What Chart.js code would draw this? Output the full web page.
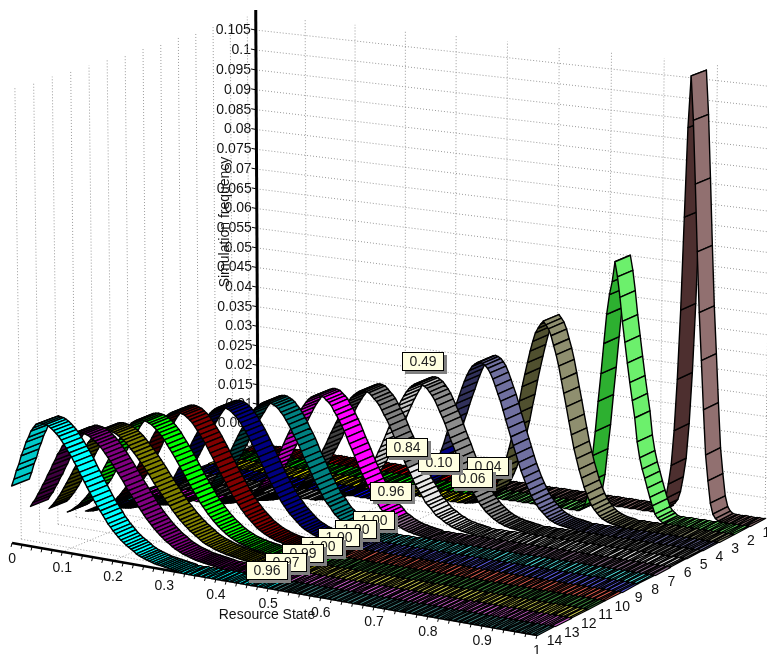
<!DOCTYPE html>
<html><head><meta charset="utf-8"><script src="https://cdn.jsdelivr.net/npm/chart.js@4"></script>
<style>html,body{margin:0;background:#fff}#w{width:767px;height:654px}</style></head>
<body><div id="w"><canvas id="c"></canvas></div>
<script>
// ---- values ----
const xTickLabels=["0","0.1","0.2","0.3","0.4","0.5","0.6","0.7","0.8","0.9","1"];
const zTickLabels=["1","2","3","4","5","6","7","8","9","10","11","12","13","14"];
const yTickLabels=["0.105","0.1","0.095","0.09","0.085","0.08","0.075","0.07","0.065","0.06","0.055","0.05","0.045","0.04","0.035","0.03","0.025","0.02","0.015","0.01","0.005","0"];
const stepU=0.005;
const peakIndex=[176,154,133,115,98,83,72,59,48,37,30,23,20,12];
const peakValue=[.1073,.0623,.0477,.0378,.0327,.0313,.0309,.0297,.0292,.0287,.0278,.0265,.0273,.0305];
// values walking away from the peak towards lower / higher resource state
const rise1=[.0948,.0731,.0504,.0334,.0207,.0120,.0073,.0036,.0015,.0005];
const fall1=[.0967,.0814,.0651,.0504,.0388,.0268,.0158,.0095,.0041,.0015,.0005];
const rise2=[.0574,.0541,.0492,.0420,.0345,.0276,.0201,.0140,.0075,.0034,.0014,.0005];
const fall2=[.0587,.0538,.0480,.0430,.0380,.0333,.0290,.0248,.0190,.0152,.0125,.0103,.0080,.0058,.0038,.0019,.0010,.0005];
const rise3=[.0469,.0458,.0446,.0424,.0399,.0370,.0340,.0309,.0273,.0241,.0206,.0178,.0151,.0126,.0103,.0084,.0068,.0053,.0041,.0032,.0025,.0018,.0013,.0010,.0007,.0005,.0003,.0002,.0001];
const fall3=[.0469,.0460,.0444,.0421,.0399,.0372,.0340,.0307,.0275,.0241,.0208,.0176,.0151,.0126,.0105,.0084,.0068,.0053,.0041,.0032,.0025,.0018,.0013,.0010,.0007,.0005,.0003,.0002,.0001];
const rise4=[.0376,.0371,.0365,.0354,.0341,.0325,.0307,.0287,.0268,.0248,.0226,.0207,.0185,.0163,.0145,.0126,.0109,.0094,.0081,.0068,.0057,.0048,.0039,.0033,.0027,.0021,.0016,.0013,.0010,.0008,.0006,.0005,.0004,.0003,.0002,.0001];
const fall4=[.0376,.0372,.0365,.0355,.0341,.0324,.0306,.0289,.0268,.0246,.0226,.0205,.0185,.0165,.0145,.0126,.0110,.0094,.0081,.0068,.0057,.0048,.0039,.0033,.0027,.0021,.0016,.0013,.0010,.0008,.0006,.0005,.0004,.0003,.0002,.0001];
const rise5=[.0326,.0323,.0318,.0311,.0302,.0291,.0279,.0266,.0252,.0237,.0221,.0205,.0189,.0173,.0157,.0143,.0128,.0114,.0101,.0089,.0078,.0067,.0058,.0050,.0043,.0037,.0031,.0026,.0021,.0017,.0014,.0012,.0009,.0008,.0006,.0005,.0004,.0003,.0002,.0001];
const fall5=[.0326,.0322,.0318,.0310,.0302,.0292,.0279,.0265,.0252,.0238,.0221,.0204,.0189,.0174,.0157,.0142,.0128,.0115,.0101,.0088,.0078,.0068,.0058,.0050,.0043,.0036,.0031,.0026,.0021,.0018,.0014,.0012,.0009,.0008,.0006,.0005,.0004,.0003,.0002,.0001];
const rise6=[.0312,.0309,.0304,.0298,.0291,.0282,.0272,.0261,.0250,.0236,.0223,.0209,.0196,.0181,.0166,.0153,.0139,.0127,.0114,.0102,.0092,.0081,.0072,.0062,.0055,.0048,.0041,.0035,.0030,.0026,.0022,.0018,.0016,.0012,.0010,.0008,.0007,.0005,.0004,.0003,.0002,.0001];
const fall6=[.0312,.0310,.0304,.0297,.0291,.0283,.0272,.0260,.0250,.0237,.0223,.0208,.0196,.0182,.0166,.0152,.0139,.0128,.0114,.0101,.0092,.0082,.0072,.0061,.0055,.0049,.0041,.0034,.0030,.0027,.0022,.0018,.0016,.0012,.0010,.0008,.0007,.0005,.0004,.0003,.0002,.0001];
const rise7=[.0308,.0305,.0301,.0295,.0287,.0277,.0267,.0256,.0243,.0230,.0216,.0202,.0188,.0173,.0158,.0145,.0131,.0118,.0106,.0095,.0083,.0074,.0065,.0056,.0048,.0042,.0036,.0030,.0026,.0021,.0018,.0015,.0012,.0010,.0008,.0007,.0005,.0004,.0003,.0002,.0001];
const fall7=[.0308,.0306,.0300,.0295,.0288,.0276,.0267,.0255,.0243,.0231,.0216,.0201,.0188,.0174,.0158,.0144,.0131,.0119,.0106,.0094,.0083,.0075,.0065,.0055,.0048,.0043,.0036,.0029,.0026,.0022,.0018,.0015,.0012,.0010,.0008,.0007,.0005,.0004,.0003,.0002,.0001];
const rise8=[.0296,.0294,.0290,.0284,.0278,.0270,.0261,.0249,.0239,.0227,.0215,.0202,.0189,.0175,.0162,.0149,.0136,.0124,.0112,.0100,.0090,.0080,.0071,.0063,.0055,.0048,.0042,.0035,.0030,.0026,.0022,.0019,.0016,.0013,.0011,.0009,.0007,.0006,.0005,.0004,.0003,.0002,.0001];
const fall8=[.0296,.0293,.0290,.0285,.0277,.0270,.0260,.0250,.0239,.0226,.0215,.0203,.0189,.0174,.0162,.0150,.0136,.0123,.0112,.0101,.0090,.0079,.0071,.0064,.0055,.0047,.0042,.0036,.0030,.0025,.0022,.0019,.0016,.0013,.0011,.0009,.0007,.0006,.0005,.0004,.0003,.0002,.0001];
const rise9=[.0291,.0289,.0285,.0279,.0272,.0264,.0255,.0244,.0233,.0221,.0209,.0196,.0183,.0169,.0156,.0143,.0131,.0119,.0106,.0095,.0085,.0076,.0067,.0059,.0051,.0045,.0039,.0033,.0028,.0024,.0020,.0017,.0014,.0012,.0010,.0008,.0006,.0005,.0004,.0003,.0002,.0001];
const fall9=[.0291,.0289,.0286,.0281,.0275,.0268,.0260,.0250,.0241,.0230,.0219,.0207,.0195,.0183,.0170,.0158,.0145,.0134,.0122,.0112,.0100,.0091,.0081,.0073,.0065,.0057,.0051,.0045,.0039,.0033,.0028,.0024,.0021,.0018,.0015,.0013,.0010,.0009,.0007,.0006,.0005,.0004,.0003,.0002,.0001];
const rise10=[.0286,.0284,.0280,.0274,.0267,.0258,.0248,.0237,.0226,.0214,.0201,.0188,.0174,.0160,.0147,.0135,.0122,.0110,.0098,.0088,.0078,.0069,.0060,.0053,.0045,.0039,.0033,.0028,.0023,.0020,.0016,.0014,.0011,.0009,.0008,.0006,.0005,.0004];
const fall10=[.0286,.0284,.0282,.0277,.0272,.0266,.0258,.0249,.0240,.0231,.0221,.0210,.0199,.0188,.0176,.0165,.0153,.0142,.0132,.0121,.0111,.0100,.0091,.0083,.0074,.0067,.0059,.0053,.0047,.0041,.0035,.0031,.0027,.0023,.0020,.0017,.0015,.0012,.0010,.0009,.0007,.0006,.0005,.0004,.0003,.0002,.0001];
const rise11=[.0277,.0275,.0271,.0266,.0259,.0251,.0242,.0231,.0220,.0209,.0197,.0184,.0171,.0158,.0146,.0134,.0122,.0110,.0098,.0088,.0078,.0069,.0061,.0054,.0046,.0040,.0035,.0029,.0024,.0021,.0017];
const fall11=[.0277,.0276,.0273,.0270,.0265,.0259,.0253,.0246,.0238,.0228,.0219,.0210,.0200,.0190,.0179,.0168,.0158,.0147,.0137,.0127,.0118,.0108,.0098,.0090,.0082,.0074,.0067,.0060,.0054,.0048,.0043,.0038,.0033,.0029,.0025,.0022,.0019,.0016,.0014,.0012,.0010,.0009,.0007,.0006,.0005,.0004,.0003,.0002,.0001];
const rise12=[.0264,.0262,.0257,.0252,.0245,.0235,.0226,.0215,.0203,.0191,.0179,.0165,.0153,.0140,.0128,.0116,.0104,.0092,.0082,.0072,.0063,.0055,.0048,.0041];
const fall12=[.0264,.0263,.0261,.0259,.0255,.0251,.0246,.0241,.0234,.0227,.0220,.0213,.0205,.0197,.0189,.0180,.0172,.0162,.0153,.0145,.0136,.0128,.0119,.0111,.0104,.0095,.0088,.0081,.0074,.0068,.0062,.0057,.0051,.0047,.0042,.0038,.0033,.0029,.0026,.0023,.0021,.0018,.0016,.0014,.0012,.0011,.0009,.0008,.0007,.0006,.0005,.0004,.0003,.0002,.0001];
const rise13=[.0272,.0268,.0266,.0258,.0251,.0241,.0232,.0219,.0209,.0194,.0182,.0167,.0155,.0140,.0129,.0115,.0104,.0091,.0082,.0071];
const fall13=[.0272,.0271,.0269,.0266,.0262,.0257,.0252,.0246,.0239,.0231,.0223,.0215,.0206,.0197,.0188,.0179,.0170,.0159,.0150,.0141,.0132,.0123,.0114,.0106,.0097,.0089,.0082,.0075,.0068,.0062,.0056,.0051,.0045,.0041,.0037,.0032,.0028,.0025,.0022,.0019,.0017,.0015,.0013,.0011,.0009,.0008,.0007,.0006,.0005,.0004,.0003,.0002,.0001];
const rise14=[.0302,.0299,.0290,.0281,.0265,.0252,.0233,.0217,.0195,.0179,.0157,.0139];
const fall14=[.0304,.0303,.0300,.0296,.0291,.0285,.0279,.0271,.0262,.0253,.0243,.0234,.0223,.0213,.0200,.0189,.0178,.0167,.0156,.0145,.0134,.0124,.0115,.0106,.0097,.0087,.0080,.0072,.0066,.0059,.0053,.0048,.0043,.0039,.0035,.0031,.0026,.0023,.0020,.0018,.0016,.0014,.0012,.0010,.0009,.0008,.0007,.0006,.0005,.0004,.0003,.0002,.0001];
const riseLists=[rise1,rise2,rise3,rise4,rise5,rise6,rise7,rise8,rise9,rise10,rise11,rise12,rise13,rise14];
const fallLists=[fall1,fall2,fall3,fall4,fall5,fall6,fall7,fall8,fall9,fall10,fall11,fall12,fall13,fall14];
// cursor read-outs at resource state 0.5 (series 2..14)
const cursorSeries=[2,3,4,5,6,7,8,9,10,11,12,13,14];
const cursorText=["0.04","0.06","0.10","0.49","0.84","0.96","1.00","1.00","1.00","1.00","0.99","0.97","0.96"];
const cursorDx=[7,7,-10,-9,-9,-8,-8,-9,-8,-8,-10,-9,-10];
const cursorDy=[-24,-20,15,-22,-17,-25,-14,-14,-14,-13,-14,-13,-13];
// colours: left/right of the cursor, rising/falling faces
const colBeforeFall=['#FF0000','#00FF00','#FFFF00','#0000FF','#C0C0C0','#808080','#FF00FF','#008080','#000080','#800000','#00FF00','#808000','#800080','#00FFFF'];
const colBeforeRise=['#800000','#008000','#808000','#000080','#C4C4C4','#404040','#C000C0','#004040','#000040','#400000','#00C000','#404000','#400040','#00C8C8'];
const colAfterFall=['#917070','#6CF06C','#8F8F6F','#7070A0','#8C8C8C','#E8E8E8','#8F708F','#50E8E8','#6060F0','#E86050','#409040','#D0D050','#D060D0','#408080'];
const colAfterRise=['#4D2F2F','#2DB030','#50502F','#30305A','#606060','#909090','#604060','#308080','#3030A0','#903028','#205020','#808030','#803080','#205050'];

// ---- camera (perspective projection of the plot box) ----
const CAM={a:472.6,b:-246.6,c:258,p:-58,d:51.7,e:70.8,f:443,q:-3937,g:-.045,h:-.0537,r:-.1458,shear:7.5};
const ZN=14,HALF=.48,Y_TOP=.11,WALL_TOP=.109;
function proj(u,v,w){const D=CAM.g*u+CAM.h*v+CAM.r*w+1;
  return {x:(CAM.a*u+CAM.b*v+CAM.c+CAM.p*w)/D,y:(CAM.d*u+CAM.e*v+CAM.f+CAM.q*w)/D+CAM.shear*u*v};}
const zv=z=>(z-.5)/ZN;
const GAP={x:NaN,y:NaN};
function seriesValues(k){const n=Math.round(1/stepU)+1,w=new Array(n).fill(0),p=peakIndex[k];w[p]=peakValue[k];
  riseLists[k].forEach((v,j)=>{if(p-1-j>=0)w[p-1-j]=v});fallLists[k].forEach((v,j)=>{if(p+1+j<n)w[p+1+j]=v});return w;}
const allValues=riseLists.map((_,k)=>seriesValues(k));

const grid=[];
for(let t=0;t<yTickLabels.length;t++){const w=parseFloat(yTickLabels[t]);grid.push(proj(0,0,w),proj(1.01,0,w),GAP);}
for(let i=1;i<xTickLabels.length;i++){const u=parseFloat(xTickLabels[i]);grid.push(proj(u,0,0),proj(u,0,WALL_TOP),GAP);grid.push(proj(u,0,0),proj(u,1,0),GAP);}
for(let z=1;z<=ZN;z++){const v=zv(z);grid.push(proj(0,v,0),proj(0,v,WALL_TOP),GAP);grid.push(proj(0,v,0),proj(1,v,0),GAP);}

const datasets=[];
datasets.push({label:'grid',data:grid,showLine:true,spanGaps:false,borderColor:'#9a9a9a',borderWidth:1,borderDash:[1,2],pointRadius:0,order:1000,fill:false});
datasets.push({label:'Simulation frequency axis',data:[proj(0,0,0),proj(0,0,Y_TOP)],showLine:true,borderColor:'#000',borderWidth:3,pointRadius:0,order:900});
datasets.push({label:'Resource State axis',data:[proj(0,1,0),proj(1,1,0)],showLine:true,borderColor:'#000',borderWidth:2.5,pointRadius:0,order:900});
const ticks=[];
for(let i=0;i<=50;i++){const a=proj(i*.02,1,0);ticks.push(a,{x:a.x-1,y:a.y+4},GAP);}
for(const s of yTickLabels){const a=proj(0,0,parseFloat(s));ticks.push(a,{x:a.x-5,y:a.y-1},GAP);}
datasets.push({label:'ticks',data:ticks,showLine:true,spanGaps:false,borderColor:'#000',borderWidth:1,pointRadius:0,order:900});
allValues.forEach((w,k)=>{const z=k+1,pts=[];w.forEach((val,i)=>{const u=i*stepU;pts.push(proj(u,(z-HALF-.5)/ZN,val));pts.push(proj(u,(z+HALF-.5)/ZN,val));});
  datasets.push({label:'Series '+z,data:pts,showLine:false,pointRadius:0,order:ZN-k,ribbon:k});});

const snap=n=>Math.round(n)+.5;
const ribbonPlugin={id:'ribbon',
 afterDatasetDraw(chart,args){const ds=chart.data.datasets[args.index];if(ds.ribbon===undefined)return;
  const k=ds.ribbon,w=allValues[k],P=args.meta.data,ctx=chart.ctx;ctx.save();ctx.strokeStyle='#000';ctx.lineJoin='round';
  for(let i=0;i<w.length-1;i++){const a=P[2*i],b=P[2*i+1],c=P[2*i+3],d=P[2*i+2];const rising=w[i+1]>w[i];
    const flat=w[i]===0&&w[i+1]===0;ctx.lineWidth=flat?1.25:1.4;
    const before=i<100;ctx.fillStyle=before?(rising?colBeforeRise[k]:colBeforeFall[k]):(rising?colAfterRise[k]:colAfterFall[k]);
    const f=flat?snap:(n=>n);
    ctx.beginPath();ctx.moveTo(f(a.x),f(a.y));ctx.lineTo(f(b.x),f(b.y));ctx.lineTo(f(c.x),f(c.y));ctx.lineTo(f(d.x),f(d.y));ctx.closePath();ctx.fill();ctx.stroke();}
  ctx.restore();},
 beforeDatasetsDraw(chart){const ctx=chart.ctx,X=chart.scales.x,Y=chart.scales.y;ctx.save();ctx.fillStyle='#111';ctx.font='14px "Liberation Sans"';ctx.textAlign='right';ctx.textBaseline='middle';
  for(const s of yTickLabels){const a=proj(0,0,parseFloat(s));ctx.fillText(s,X.getPixelForValue(a.x)-5,Y.getPixelForValue(a.y));}
  ctx.translate(225,222);ctx.rotate(-Math.PI/2);ctx.textAlign='center';ctx.fillText('Simulation frequency',0,0);ctx.restore();},
 afterDraw(chart){const ctx=chart.ctx,X=chart.scales.x,Y=chart.scales.y;ctx.save();ctx.fillStyle='#111';ctx.font='14px "Liberation Sans"';ctx.textAlign='center';ctx.textBaseline='middle';
  for(const s of xTickLabels){const a=proj(parseFloat(s),1,0);ctx.fillText(s,X.getPixelForValue(a.x)-0,Y.getPixelForValue(a.y)+16);}
  zTickLabels.forEach((s,i)=>{const a=proj(1,zv(+s),0);ctx.fillText(s,X.getPixelForValue(a.x)+9,Y.getPixelForValue(a.y)+11);});
  ctx.fillText('Resource State',267,615);
  cursorText.forEach((s,i)=>{const k=cursorSeries[i]-1,a=proj(.5,zv(k+1),allValues[k][100]);const cx=X.getPixelForValue(a.x)+cursorDx[i],cy=Y.getPixelForValue(a.y)+cursorDy[i];
    const bw=42,bh=19,l=Math.round(cx-bw/2),t=Math.round(cy-bh/2);
    ctx.fillStyle='#808080';ctx.fillRect(l+3,t+3,bw,bh);
    ctx.fillStyle='#FFFFE1';ctx.fillRect(l,t,bw,bh);ctx.strokeStyle='#000';ctx.lineWidth=1;ctx.strokeRect(l+.5,t+.5,bw-1,bh-1);
    ctx.fillStyle='#222';ctx.fillText(s,l+bw/2,t+bh/2+.5);});
  ctx.restore();}};
new Chart(document.getElementById('c'),{type:'scatter',data:{datasets},plugins:[ribbonPlugin],
 options:{responsive:true,maintainAspectRatio:false,animation:false,events:[],layout:{padding:0},clip:false,
  plugins:{legend:{display:false},tooltip:{enabled:false},title:{display:false}},
  scales:{x:{type:'linear',display:false,min:0,max:767},y:{type:'linear',display:false,min:0,max:654,reverse:true}}}});
</script></body></html>
